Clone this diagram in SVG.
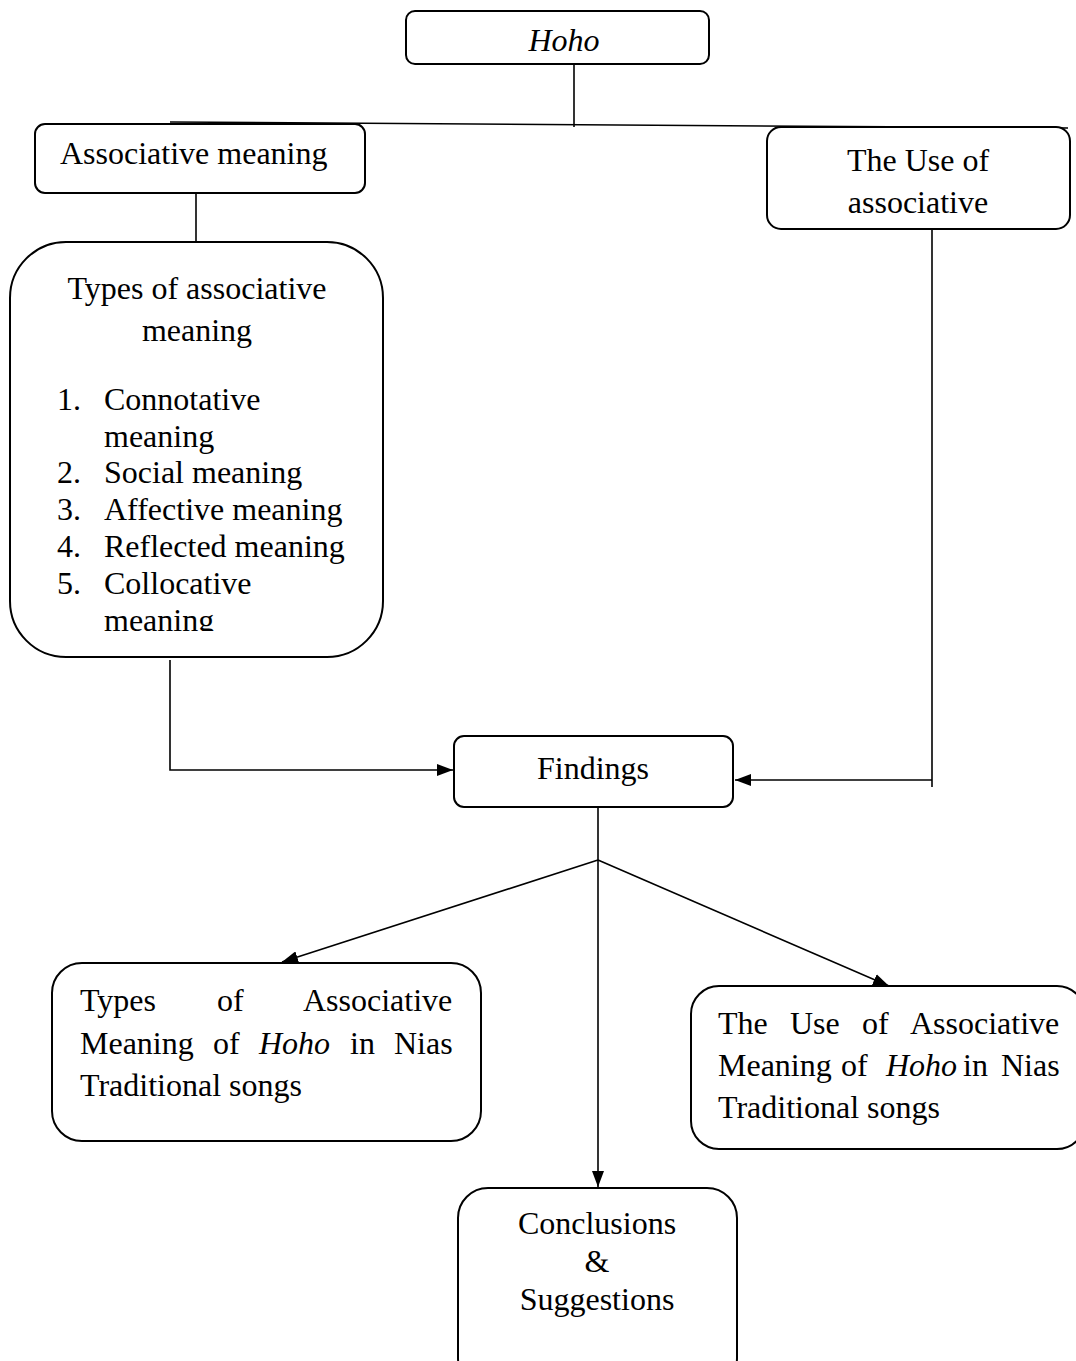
<svg xmlns="http://www.w3.org/2000/svg" width="1076" height="1361" viewBox="0 0 1076 1361">
<style>
.box{fill:#fff;stroke:#000;stroke-width:2}
.t{font-family:"Liberation Serif","Times New Roman",serif;font-size:32px;fill:#000}
.i{font-style:italic}
.ln{stroke:#000;stroke-width:1.6;fill:none}
</style>
<defs>
<marker id="ah" viewBox="0 0 16 12" refX="16" refY="6" markerWidth="16" markerHeight="12" markerUnits="userSpaceOnUse" orient="auto">
<path d="M0,0 L16,6 L0,12 Z" fill="#000"/>
</marker>
<clipPath id="clipList"><rect x="0" y="240" width="400" height="391"/></clipPath>
</defs>
<rect width="1076" height="1361" fill="#fff"/>
<g id="connectors">
<line class="ln" x1="574" y1="64" x2="574" y2="127"/>
<line class="ln" x1="170" y1="122" x2="1068" y2="128"/>
<line class="ln" x1="196" y1="193" x2="196" y2="242"/>
<polyline class="ln" points="170,660 170,770 453,770" marker-end="url(#ah)"/>
<line class="ln" x1="932" y1="229" x2="932" y2="787"/>
<line class="ln" x1="932" y1="780" x2="735" y2="780" marker-end="url(#ah)"/>
<line class="ln" x1="598" y1="807" x2="598" y2="1187" marker-end="url(#ah)"/>
<line class="ln" x1="598" y1="860" x2="282" y2="962" marker-end="url(#ah)"/>
<line class="ln" x1="598" y1="860" x2="889" y2="986" marker-end="url(#ah)"/>
</g>
<g id="hoho">
<rect class="box" x="406" y="11" width="303" height="53" rx="9"/>
<text class="t i" x="564" y="51" text-anchor="middle" font-size="28">Hoho</text>
</g>
<g id="associative-meaning">
<rect class="box" x="35" y="124" width="330" height="69" rx="10"/>
<text class="t" x="60" y="164">Associative meaning</text>
</g>
<g id="use-of-associative">
<rect class="box" x="767" y="127" width="303" height="102" rx="14"/>
<text class="t" x="918" y="171" text-anchor="middle">The Use of</text>
<text class="t" x="918" y="213" text-anchor="middle">associative</text>
</g>
<g id="types-of-associative">
<rect class="box" x="10" y="242" width="373" height="415" rx="56"/>
<text class="t" x="197" y="299" text-anchor="middle">Types of associative</text>
<text class="t" x="197" y="341" text-anchor="middle">meaning</text>
<g clip-path="url(#clipList)">
<text class="t" x="57" y="410">1.</text><text class="t" x="104" y="410">Connotative</text>
<text class="t" x="104" y="447">meaning</text>
<text class="t" x="57" y="483">2.</text><text class="t" x="104" y="483">Social meaning</text>
<text class="t" x="57" y="520">3.</text><text class="t" x="104" y="520">Affective meaning</text>
<text class="t" x="57" y="557">4.</text><text class="t" x="104" y="557">Reflected meaning</text>
<text class="t" x="57" y="594">5.</text><text class="t" x="104" y="594">Collocative</text>
<text class="t" x="104" y="631">meaning</text>
</g>
</g>
<g id="findings">
<rect class="box" x="454" y="736" width="279" height="71" rx="10"/>
<text class="t" x="593" y="779" text-anchor="middle">Findings</text>
</g>
<g id="types-result">
<rect class="box" x="52" y="963" width="429" height="178" rx="30"/>
<text class="t" y="1011"><tspan x="80">Types</tspan><tspan x="217">of</tspan><tspan x="303">Associative</tspan></text>
<text class="t" y="1054"><tspan x="80">Meaning</tspan><tspan x="213">of</tspan><tspan x="259" class="i">Hoho</tspan><tspan x="350">in</tspan><tspan x="394">Nias</tspan></text>
<text class="t" x="80" y="1096">Traditional songs</text>
</g>
<g id="use-result">
<rect class="box" x="691" y="986" width="394" height="163" rx="28"/>
<text class="t" y="1034"><tspan x="718">The</tspan><tspan x="790">Use</tspan><tspan x="862">of</tspan><tspan x="910">Associative</tspan></text>
<text class="t" y="1076"><tspan x="718">Meaning</tspan><tspan x="841">of</tspan><tspan x="886" class="i">Hoho</tspan><tspan x="963">in</tspan><tspan x="1001">Nias</tspan></text>
<text class="t" x="718" y="1118">Traditional songs</text>
</g>
<g id="conclusions">
<rect class="box" x="458" y="1188" width="279" height="200" rx="30"/>
<text class="t" x="597" y="1234" text-anchor="middle">Conclusions</text>
<text class="t" x="597" y="1272" text-anchor="middle">&amp;</text>
<text class="t" x="597" y="1310" text-anchor="middle">Suggestions</text>
</g>
</svg>
